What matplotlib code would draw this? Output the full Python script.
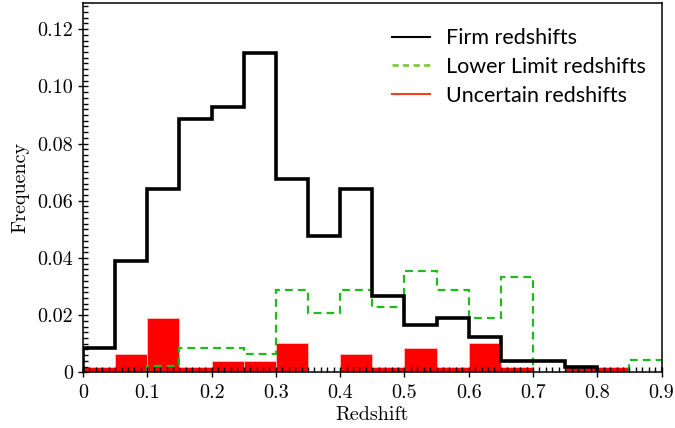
import numpy as np
import matplotlib
matplotlib.use("Agg")
import matplotlib.pyplot as plt
from matplotlib.lines import Line2D
from matplotlib.ticker import MultipleLocator, FuncFormatter

plt.rcParams["font.family"] = "serif"
plt.rcParams["font.serif"] = ["cmr10"]
plt.rcParams["mathtext.fontset"] = "cm"
plt.rcParams["axes.formatter.use_mathtext"] = True

# histogram bin edges (redshift), width 0.05
bin_edges = [0.0, 0.05, 0.1, 0.15, 0.2, 0.25, 0.3, 0.35, 0.4, 0.45,
             0.5, 0.55, 0.6, 0.65, 0.7, 0.75, 0.8, 0.85, 0.9]

firm = [0.0084, 0.0388, 0.0640, 0.0885, 0.0928, 0.1116, 0.0677, 0.0478, 0.0640,
        0.0268, 0.0165, 0.0189, 0.0125, 0.0040, 0.0040, 0.0020, 0.0, 0.0]
lower_limit = [0.0, 0.0, 0.0022, 0.0086, 0.0086, 0.0063, 0.0289, 0.0207, 0.0289,
               0.0230, 0.0353, 0.0289, 0.0189, 0.0332, 0.0, 0.0, 0.0, 0.0042]
uncertain = [0.0020, 0.0063, 0.0189, 0.0020, 0.0041, 0.0041, 0.0102, 0.0, 0.0063,
             0.0020, 0.0084, 0.0020, 0.0102, 0.0020, 0.0, 0.0020, 0.0020, 0.0]

legend_labels = ["Firm redshifts", "Lower Limit redshifts", "Uncertain redshifts"]


def stairs_nonzero(ax, values, edges, **kw):
    """Draw step outlines only over contiguous runs of non-empty bins."""
    values = np.asarray(values)
    edges = np.asarray(edges)
    filled = values > 0
    i = 0
    while i < len(values):
        if not filled[i]:
            i += 1
            continue
        j = i
        while j < len(values) and filled[j]:
            j += 1
        ax.stairs(values[i:j], edges[i:j + 1], baseline=0, **kw)
        i = j


fig = plt.figure(figsize=(6.75, 4.28), dpi=100)
ax = fig.add_axes([0.123, 0.130, 0.857, 0.862])

edges = np.asarray(bin_edges)
widths = np.diff(edges)
ax.bar(edges[:-1], uncertain, width=widths, align="edge", color="#ff0000",
       edgecolor="#ffc0c0", linewidth=0.6, zorder=1)
stairs_nonzero(ax, lower_limit, edges, color="#1fba1f", linewidth=1.6,
               linestyle=(0, (3.5, 2.3)), zorder=2)
stairs_nonzero(ax, firm, edges, color="black", linewidth=2.6, zorder=3)

ax.set_xlim(0, 0.9)
ax.set_ylim(0, 0.129)
ax.xaxis.set_major_locator(MultipleLocator(0.1))
ax.xaxis.set_minor_locator(MultipleLocator(0.01))
ax.yaxis.set_major_locator(MultipleLocator(0.02))
ax.yaxis.set_minor_locator(MultipleLocator(0.002))
ax.xaxis.set_major_formatter(FuncFormatter(lambda v, p: "0" if abs(v) < 1e-9 else f"{v:.1f}"))
ax.yaxis.set_major_formatter(FuncFormatter(lambda v, p: "0" if abs(v) < 1e-9 else f"{v:.2f}"))
ax.tick_params(which="major", direction="inout", length=7, width=1.0, labelsize=14.5,
               top=False, right=False)
ax.tick_params(axis="x", which="major", pad=5)
ax.tick_params(which="minor", direction="in", length=3.5, width=1.0,
               top=False, right=False)
ax.set_axisbelow(False)
for sp in ax.spines.values():
    sp.set_linewidth(1.1)
    sp.set_zorder(5)

ax.set_xlabel("Redshift", fontsize=14.5, labelpad=3)
ax.set_ylabel("Frequency", fontsize=14.5, labelpad=6)

handles = [
    Line2D([], [], color="black", linewidth=1.5),
    Line2D([], [], color="#7fc843", linewidth=2.0, linestyle=(0, (2.2, 1.6))),
    Line2D([], [], color="#ff3b22", linewidth=1.5),
]
leg = ax.legend(handles, legend_labels, loc="upper right", bbox_to_anchor=(1.007, 0.985),
                frameon=False, handlelength=1.75, handletextpad=0.75, labelspacing=0.4,
                prop={"family": "Lato", "size": 15.5})

fig.savefig("out.png", dpi=100)
